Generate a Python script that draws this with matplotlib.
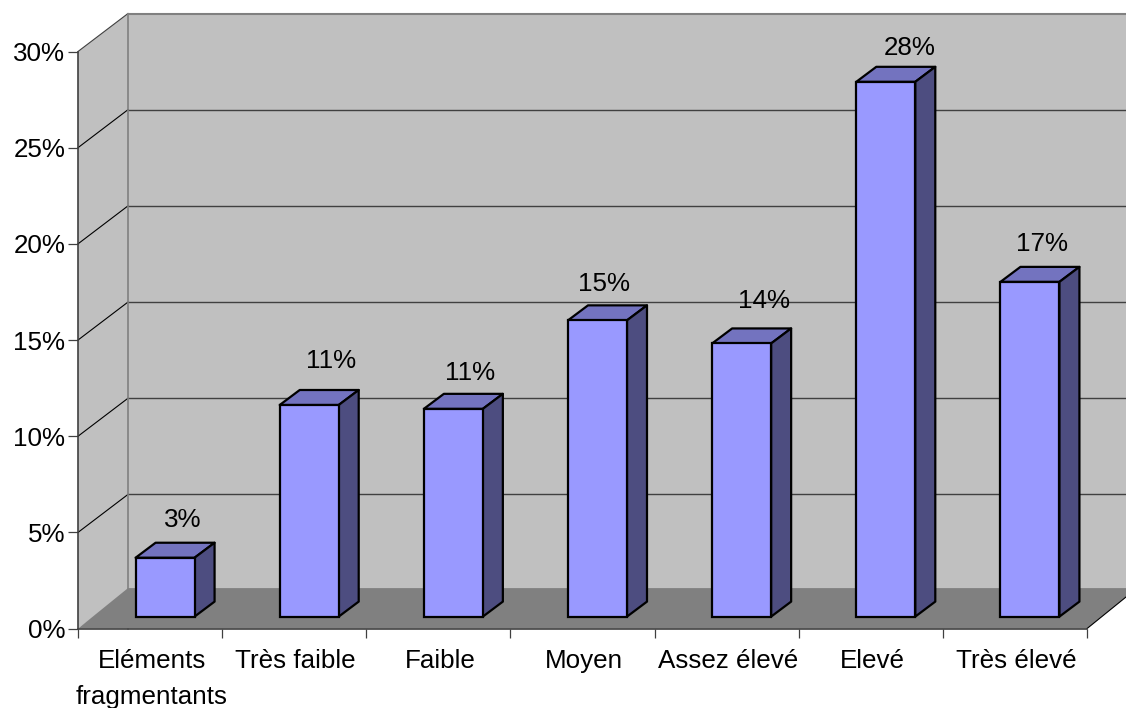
import matplotlib
matplotlib.use('Agg')
import matplotlib.pyplot as plt
from matplotlib.patches import Polygon

plt.rcParams['font.family'] = ['Liberation Sans', 'DejaVu Sans']

categories = ['Eléments\nfragmentants', 'Très faible', 'Faible', 'Moyen', 'Assez élevé', 'Elevé', 'Très élevé']
values = [3.06, 11.0, 10.8, 15.4, 14.2, 27.8, 17.4]
y_ticks = [0, 5, 10, 15, 20, 25, 30]

# hand placed data labels in the original, pixels from the bar's front top centre
label_nudge = [(18, 38), (22, 44), (17, 36), (6, 36), (22, 42), (24, 34), (12, 38)]

W, H = 1126, 708
FS = 18.7
# front plane of the chart in pixels
LEFT, RIGHT, BOTTOM, TOP = 78, 1087, 628.6, 51.5
PX_X = (RIGHT - LEFT) / len(categories)  # pixels per category
PX_Y = (BOTTOM - TOP) / y_ticks[-1]      # pixels per percent

# 3d look, given in pixels and turned into data units
wall_dx, wall_dy = 50 / PX_X, 38 / PX_Y
floor_dy = 40.5 / PX_Y
bar_shift_x, bar_shift_y = 15 / PX_X, 12 / PX_Y
bar_dx, bar_dy = 20 / PX_X, 15 / PX_Y
bar_w = 59 / PX_X

WALL = '#C0C0C0'
FLOOR = '#808080'
FRONT = '#9999FF'
TOPC = '#7373BF'
SIDE = '#4D4D80'
LINE = '#404040'

fig = plt.figure(figsize=(W / 100, H / 100), dpi=100)
ax = fig.add_axes([LEFT / W, 1 - BOTTOM / H, (RIGHT - LEFT) / W, (BOTTOM - TOP) / H])
ax.set_xlim(0, len(categories))
ax.set_ylim(0, y_ticks[-1])
ax.patch.set_visible(False)
n = len(categories)
ymax = y_ticks[-1]

# walls and floor
ax.add_patch(Polygon([(wall_dx, wall_dy), (n + wall_dx, wall_dy), (n + wall_dx, ymax + wall_dy), (wall_dx, ymax + wall_dy)],
                     facecolor=WALL, edgecolor='none', clip_on=False, zorder=1))
ax.add_patch(Polygon([(0, 0), (wall_dx, wall_dy), (wall_dx, ymax + wall_dy), (0, ymax)],
                     facecolor=WALL, edgecolor='none', clip_on=False, zorder=1))

# gridlines run along the side wall then the back wall
for t in y_ticks[1:-1]:
    ax.plot([0, wall_dx], [t, t + wall_dy], color='black', lw=0.8, clip_on=False, zorder=2)
    ax.plot([wall_dx, n + wall_dx], [t + wall_dy, t + wall_dy], color=LINE, lw=1.0, clip_on=False, zorder=2)
ax.plot([0, wall_dx], [ymax, ymax + wall_dy], color=LINE, lw=0.8, clip_on=False, zorder=2)
ax.plot([wall_dx, n + wall_dx], [ymax + wall_dy, ymax + wall_dy], color=FLOOR, lw=1.5, clip_on=False, zorder=2)
ax.plot([wall_dx, wall_dx], [0, ymax + wall_dy], color=FLOOR, lw=1.2, clip_on=False, zorder=2)

ax.add_patch(Polygon([(0, 0), (n, 0), (n + wall_dx, floor_dy), (wall_dx, floor_dy)],
                     facecolor=FLOOR, edgecolor='none', clip_on=False, zorder=3))
ax.plot([n, n + wall_dx], [0, floor_dy], color='black', lw=0.8, clip_on=False, zorder=3)

# bars
x_pos = [i + 0.5 + bar_shift_x for i in range(n)]
ax.bar(x_pos, values, width=bar_w, bottom=bar_shift_y, color=FRONT, edgecolor='black', linewidth=1.6, zorder=5, clip_on=False)
for x, v, (nx, ny) in zip(x_pos, values, label_nudge):
    x0, x1 = x - bar_w / 2, x + bar_w / 2
    y0, y1 = bar_shift_y, bar_shift_y + v
    ax.add_patch(Polygon([(x0, y1), (x1, y1), (x1 + bar_dx, y1 + bar_dy), (x0 + bar_dx, y1 + bar_dy)],
                         facecolor=TOPC, edgecolor='black', lw=1.6, joinstyle='round', clip_on=False, zorder=4))
    ax.add_patch(Polygon([(x1, y0), (x1 + bar_dx, y0 + bar_dy), (x1 + bar_dx, y1 + bar_dy), (x1, y1)],
                         facecolor=SIDE, edgecolor='black', lw=1.6, joinstyle='round', clip_on=False, zorder=4))
    ax.annotate(f'{round(v)}%', xy=(x, y1), xytext=(nx, ny), textcoords='offset pixels',
                ha='center', va='center', fontsize=FS, color='black', zorder=6, annotation_clip=False)

# axes
for s in ['top', 'right']:
    ax.spines[s].set_visible(False)
for s in ['left', 'bottom']:
    ax.spines[s].set_color(LINE)
    ax.spines[s].set_linewidth(1.2)
    ax.spines[s].set_zorder(4)
ax.set_yticks(y_ticks)
ax.set_yticklabels([f'{t}%' for t in y_ticks], fontsize=FS)
ax.tick_params(axis='y', length=7.2, width=0.9, color=LINE, pad=2)
ax.set_xticks(range(n + 1))
ax.set_xticklabels([])
ax.tick_params(axis='x', which='major', length=6.5, width=0.9, color=LINE)
ax.set_xticks([i + 0.5 + 1.5 / PX_X for i in range(n)], minor=True)
ax.set_xticklabels(categories, minor=True, fontsize=FS, linespacing=1.62, va='top')
ax.tick_params(axis='x', which='minor', length=0, pad=15)

fig.savefig('out.png', dpi=100, facecolor='white')
